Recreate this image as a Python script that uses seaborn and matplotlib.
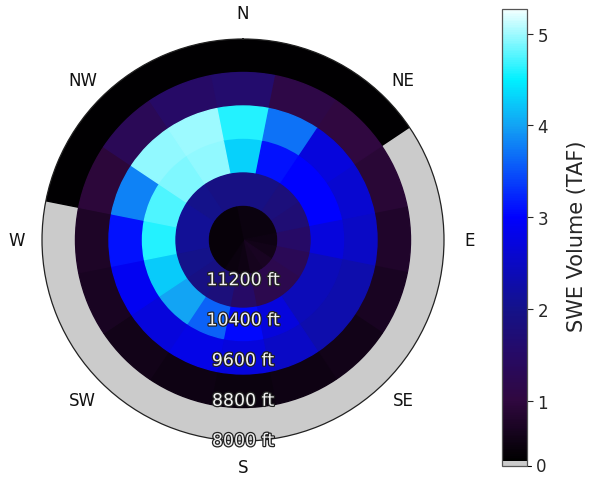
import numpy as np
import matplotlib
matplotlib.use("Agg")
import matplotlib.pyplot as plt
import matplotlib.patheffects as pe
from matplotlib.cm import ScalarMappable
from matplotlib.colors import LinearSegmentedColormap, Normalize
import seaborn as sns

# 16-point compass sectors, clockwise from north
directions = ["N", "NNE", "NE", "ENE", "E", "ESE", "SE", "SSE",
              "S", "SSW", "SW", "WSW", "W", "WNW", "NW", "NNW"]

# elevation band edges (ft)
band_edges_ft = [8000, 8666.7, 9333.3, 10000, 10666.7, 11333.3, 12000]

# SWE volume (TAF) per sector, one list per elevation band (low -> high)
swe_8000_8667 = [0.36, 0.36, 0.36, 0, 0, 0, 0, 0, 0, 0, 0, 0, 0, 0.36, 0.36, 0.36]
swe_8667_9333 = [1.6, 1.1, 1.0, 0.9, 0.8, 0.7, 0.6, 0.55, 0.5, 0.55, 0.6, 0.7, 0.75, 0.95, 1.3, 1.5]
swe_9333_10000 = [4.6, 3.7, 2.7, 2.6, 2.5, 2.3, 2.3, 2.5, 2.7, 2.8, 2.7, 2.9, 3.1, 3.8, 4.95, 5.0]
swe_10000_10667 = [4.3, 3.1, 3.0, 3.0, 2.7, 2.4, 2.4, 2.7, 3.05, 3.6, 4.0, 4.25, 4.6, 4.75, 4.9, 4.95]
swe_10667_11333 = [1.9, 1.9, 1.8, 1.7, 1.5, 1.3, 1.2, 1.2, 1.5, 1.8, 1.9, 2.0, 2.1, 2.1, 2.0, 1.9]
swe_11333_12000 = [0.5, 0.5, 0.5, 0.5, 0.55, 0.6, 0.7, 0.65, 0.55, 0.5, 0.45, 0.45, 0.45, 0.45, 0.45, 0.45]

compass_labels = ["N", "NE", "E", "SE", "S", "SW", "W", "NW"]
elev_label_ft = [11200, 10400, 9600, 8800, 8000]
cbar_ticks = [1, 2, 3, 4, 5]
swe_min, swe_max = 0.34, 5.27

sns.set_style("white")
plt.rcParams["font.family"] = ["DejaVu Sans"]

swe_bands = [swe_8000_8667, swe_8667_9333, swe_9333_10000,
             swe_10000_10667, swe_10667_11333, swe_11333_12000]

# sectors centred on each compass point
n_sec = len(directions)
width = 2 * np.pi / n_sec
theta = np.arange(n_sec) * width

# black -> purple -> indigo -> navy -> blue -> azure -> cyan -> white
nodes = [(0.34, "#000000"), (1.0, "#300840"), (1.5, "#260a66"), (2.0, "#14128a"),
         (3.0, "#0000ff"), (4.0, "#12a2f4"), (4.5, "#00f0ff"), (5.27, "#f2ffff")]
cmap = LinearSegmentedColormap.from_list(
    "swe", [((v - swe_min) / (swe_max - swe_min), c) for v, c in nodes])
cmap.set_under("#cbcbcb")
norm = Normalize(vmin=swe_min, vmax=swe_max)

fig = plt.figure(figsize=(5.92, 4.81), dpi=100)
ax = fig.add_axes([42 / 592, 39 / 481, 402 / 592, 402 / 481], projection="polar")
ax.set_theta_zero_location("N")
ax.set_theta_direction(-1)

for lo, hi, vals in zip(band_edges_ft[:-1], band_edges_ft[1:], swe_bands):
    colors = cmap(norm(np.asarray(vals, dtype=float)))
    ax.bar(theta, hi - lo, width=width, bottom=lo, color=colors,
           edgecolor=colors, linewidth=1.0, align="center")

ax.set_ylim(12000, 8000)
ax.grid(False)
ax.set_yticks([])
ax.set_xticks(np.deg2rad(np.arange(0, 360, 45)))
ax.set_xticklabels(compass_labels, fontsize=12, color="#111111")
ax.tick_params(axis="x", pad=8)
ax.spines["polar"].set_linewidth(0.9)
ax.spines["polar"].set_color("#222222")
ax.spines["polar"].set_zorder(6)

for elev in elev_label_ft:
    ax.text(np.pi, elev, f"{elev} ft", ha="center", va="center", fontsize=12.5,
            color="#f2f2f2", clip_on=False, zorder=7,
            path_effects=[pe.withStroke(linewidth=1.8, foreground="#222222")])

cax = fig.add_axes([502 / 592, 14 / 481, 25 / 592, 457 / 481])
ext = 5 / 457
mappable = ScalarMappable(norm=norm, cmap=cmap)
cbar = fig.colorbar(mappable, cax=cax, extend="min", extendrect=True, extendfrac=ext)
cbar.set_ticks(cbar_ticks)
cbar.ax.tick_params(labelsize=12, length=4, width=0.8)
cbar.outline.set_linewidth(0.9)
cbar.outline.set_edgecolor("#555555")
cbar.set_label("SWE Volume (TAF)", fontsize=15, labelpad=14)
# zero tick at the bottom of the "no snow" extension
cax.plot([1.0, 1.0 + 4 / 25], [-ext, -ext], transform=cax.transAxes,
         color="black", lw=0.8, clip_on=False)
cax.text(1.0 + 9 / 25, -ext, "0", transform=cax.transAxes, fontsize=12,
         ha="left", va="center")

fig.savefig("out.png", dpi=100)
